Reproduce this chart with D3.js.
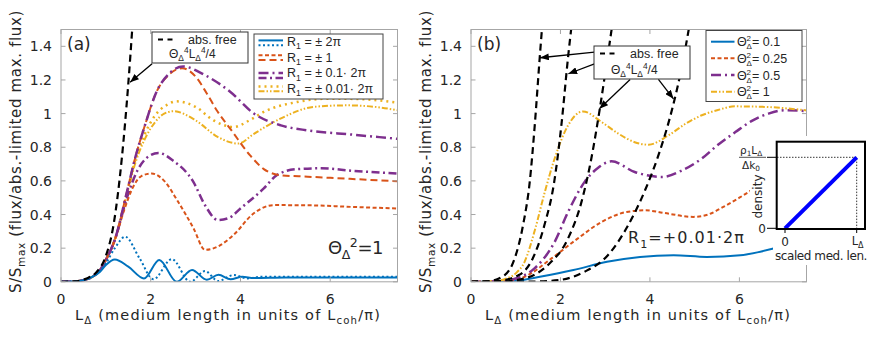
<!DOCTYPE html>
<html>
<head>
<meta charset="utf-8">
<script src="https://cdn.jsdelivr.net/npm/d3@7"></script>
<style>
  body { margin: 0; background: #fff; }
  text { font-family: "DejaVu Sans", sans-serif; fill: #262626; }
  .lg text, .ann text { font-family: "Liberation Sans", Arial, sans-serif; }
</style>
</head>
<body>
<svg id="chart" width="872" height="339"></svg>
<script>
// ---- axes ticks ----
const xTicks = [0, 2, 4, 6]
const yTicks = [0, 0.2, 0.4, 0.6, 0.8, 1, 1.2, 1.4]
const yTickLabels = ['0', '0.2', '0.4', '0.6', '0.8', '1', '1.2', '1.4']

// ---- (a) Θ²=1, R1 varied ----
const aFreeL = [0, 0.3, 0.57, 0.8, 0.98, 1.17, 1.355, 1.5, 1.6]
const aFreeV = [0, 0.002, 0.02, 0.06, 0.14, 0.337, 0.733, 1.178, 1.55]

const aBlueSolidL = [0, 0.3, 0.5, 0.7, 0.87, 1.0, 1.2, 1.5, 1.85, 2.19, 2.58, 2.92, 3.25, 3.51, 3.78, 4.04, 4.3, 5, 6, 7.5]
const aBlueSolidV = [0, 0.002, 0.01, 0.03, 0.06, 0.1, 0.133, 0.09, 0.02, 0.13, 0.0, 0.07, 0.012, 0.042, 0.015, 0.03, 0.022, 0.025, 0.025, 0.025]

const aBlueDotL = [0, 0.3, 0.5, 0.7, 0.87, 1.0, 1.2, 1.43, 1.75, 2.06, 2.47, 2.88, 3.21, 3.5, 3.85, 4.15, 4.45, 5, 6, 7.5]
const aBlueDotV = [0, 0.002, 0.01, 0.03, 0.065, 0.11, 0.2, 0.268, 0.14, 0.015, 0.135, 0.0, 0.064, 0.005, 0.04, 0.02, 0.03, 0.03, 0.03, 0.03]

const aOrangeLowL = [0, 0.3, 0.5, 0.7, 0.87, 1.0, 1.2, 1.4, 1.6, 1.8, 2.02, 2.3, 2.6, 2.95, 3.21, 3.5, 3.85, 4.29, 4.74, 5.5, 6.5, 7.5]
const aOrangeLowV = [0, 0.002, 0.01, 0.03, 0.07, 0.13, 0.25, 0.42, 0.56, 0.63, 0.644, 0.6, 0.48, 0.32, 0.19, 0.21, 0.28, 0.406, 0.456, 0.455, 0.445, 0.436]

const aOrangeHighL = [0, 0.3, 0.5, 0.7, 0.87, 1.0, 1.2, 1.47, 1.65, 1.87, 2.13, 2.4, 2.7, 3.0, 3.25, 3.47, 3.8, 4.22, 4.52, 4.89, 5.5, 6.0, 7.5]
const aOrangeHighV = [0, 0.002, 0.01, 0.03, 0.07, 0.13, 0.25, 0.535, 0.733, 0.93, 1.13, 1.23, 1.27, 1.22, 1.12, 1.02, 0.9, 0.75, 0.67, 0.634, 0.625, 0.618, 0.598]

const aPurpleLowL = [0, 0.3, 0.5, 0.7, 0.87, 1.0, 1.2, 1.47, 1.7, 1.95, 2.17, 2.5, 2.95, 3.2, 3.5, 3.75, 4.0, 4.52, 4.81, 5.26, 5.8, 6.5, 7.5]
const aPurpleLowV = [0, 0.002, 0.01, 0.03, 0.07, 0.13, 0.25, 0.5, 0.66, 0.745, 0.766, 0.72, 0.594, 0.46, 0.367, 0.38, 0.436, 0.555, 0.634, 0.67, 0.675, 0.66, 0.644]

const aPurpleHighL = [0, 0.3, 0.5, 0.7, 0.87, 1.0, 1.2, 1.47, 1.65, 1.87, 2.13, 2.4, 2.72, 3.2, 3.77, 4.3, 4.9, 5.5, 6.5, 7.5]
const aPurpleHighV = [0, 0.002, 0.01, 0.03, 0.07, 0.13, 0.25, 0.535, 0.733, 0.93, 1.13, 1.235, 1.28, 1.23, 1.13, 1.0, 0.93, 0.9, 0.875, 0.85]

const aYellowDotL = [0, 0.3, 0.5, 0.7, 0.87, 1.0, 1.2, 1.47, 1.65, 1.87, 2.1, 2.35, 2.58, 3.0, 3.4, 3.85, 4.2, 4.52, 5.26, 6.0, 6.75, 7.5]
const aYellowDotV = [0, 0.002, 0.01, 0.03, 0.07, 0.13, 0.25, 0.53, 0.72, 0.88, 0.99, 1.05, 1.073, 1.04, 0.96, 0.92, 0.96, 1.01, 1.069, 1.089, 1.085, 1.065]

const aYellowDddL = [0, 0.3, 0.5, 0.7, 0.87, 1.0, 1.2, 1.47, 1.65, 1.87, 2.1, 2.3, 2.51, 3.0, 3.5, 3.95, 4.3, 4.89, 5.63, 6.38, 7.0, 7.5]
const aYellowDddV = [0, 0.002, 0.01, 0.03, 0.07, 0.13, 0.25, 0.52, 0.7, 0.85, 0.95, 1.0, 1.014, 0.96, 0.86, 0.822, 0.88, 0.97, 1.04, 1.049, 1.04, 1.02]

// ---- (b) R1 = +0.01·2π, Θ² varied ----
const bFree1L = [0, 0.38, 0.754, 0.977, 1.163, 1.313, 1.425, 1.537, 1.6]
const bFree1V = [0, 0.003, 0.04, 0.139, 0.336, 0.594, 0.93, 1.336, 1.55]
const bFree2L = [0, 0.54, 1.07, 1.38, 1.64, 1.86, 2.02, 2.17, 2.26]
const bFree2V = [0, 0.003, 0.04, 0.139, 0.336, 0.594, 0.93, 1.336, 1.55]
const bFree3L = [0, 0.7, 1.2, 1.72, 2.17, 2.47, 2.69, 2.88, 3.05, 3.17]
const bFree3V = [0, 0.002, 0.02, 0.1, 0.258, 0.475, 0.733, 1.03, 1.33, 1.55]
const bFree4L = [0, 1.3, 1.95, 2.54, 3.06, 3.5, 3.9, 4.2, 4.5, 4.7, 4.9]
const bFree4V = [0, 0.001, 0.01, 0.06, 0.158, 0.33, 0.55, 0.76, 1.03, 1.26, 1.55]

const bBlueL = [0, 0.8, 1.0, 1.54, 2.29, 3.04, 3.78, 4.53, 5.27, 6.02, 6.4, 6.76]
const bBlueV = [0, 0.0, 0.005, 0.03, 0.07, 0.119, 0.148, 0.158, 0.148, 0.158, 0.175, 0.198]
const bOrangeL = [0, 0.7, 1.2, 1.8, 2.39, 2.92, 3.48, 3.9, 4.3, 4.97, 5.3, 5.64, 6.0, 6.3]
const bOrangeV = [0, 0.003, 0.03, 0.139, 0.258, 0.356, 0.415, 0.425, 0.41, 0.386, 0.4, 0.445, 0.5, 0.55]
const bPurpleL = [0, 0.6, 1.0, 1.42, 1.87, 2.17, 2.54, 2.85, 3.14, 3.66, 4.0, 4.27, 4.7, 5.16, 5.5, 5.91, 6.3, 6.65, 7.02, 7.5]
const bPurpleV = [0, 0.003, 0.02, 0.08, 0.237, 0.415, 0.594, 0.68, 0.716, 0.653, 0.63, 0.623, 0.66, 0.733, 0.81, 0.89, 0.96, 1.0, 1.02, 1.015]
const bYellowL = [0, 0.5, 0.8, 1.0, 1.2, 1.42, 1.65, 1.87, 2.17, 2.5, 2.92, 3.3, 3.66, 3.97, 4.41, 4.8, 5.16, 5.5, 5.91, 6.65, 7.1, 7.5]
const bYellowV = [0, 0.003, 0.02, 0.05, 0.12, 0.3, 0.534, 0.733, 0.93, 1.013, 0.95, 0.88, 0.83, 0.815, 0.87, 0.94, 0.99, 1.02, 1.043, 1.039, 1.03, 1.019]

// inset: linear density along scaled medium length
const insetX = [0, 1]
const insetY = [0, 1]

// ---- styles ----
const C = { blue: '#0072BD', orange: '#D95319', yellow: '#EDB120', purple: '#7E2F8E', black: '#000' }
const st = {
  free: { c: C.black, w: 2.2, d: '7,4.5' },
  blueSolid: { c: C.blue, w: 2, d: null },
  blueDot: { c: C.blue, w: 2, d: '2,2.5' },
  orangeShort: { c: C.orange, w: 2, d: '4,2.5' },
  orangeLong: { c: C.orange, w: 2, d: '7,4' },
  purpleA: { c: C.purple, w: 2.5, d: '10,4,2,4' },
  purpleB: { c: C.purple, w: 2.5, d: '8,3.5,2,3.5' },
  yellowDot: { c: C.yellow, w: 2.5, d: '2,4' },
  yellowDdd: { c: C.yellow, w: 2, d: '6,2,1.5,2,1.5,2' }
}

const zip = (xs, ys) => xs.map((x, i) => [x, ys[i]])
const svg = d3.select('#chart')
const defs = svg.append('defs')
defs.append('marker').attr('id', 'head')
  .attr('viewBox', '0 -4 10 8').attr('refX', 10).attr('refY', 0)
  .attr('markerUnits', 'userSpaceOnUse').attr('markerWidth', 9).attr('markerHeight', 7)
  .attr('orient', 'auto')
  .append('path').attr('d', 'M0,-4L10,0L0,4Z').attr('fill', '#000')

const AX = '#a6a6a6'

// rich text helper: parts = [text, kind]; kind '' | 'sub' | 'sup'
function rich (t, parts, size) {
  let shift = 0
  parts.forEach(p => {
    const [txt, kind] = Array.isArray(p) ? p : [p, '']
    const target = kind === 'sub' ? size * 0.28 : kind === 'sup' ? -size * 0.38 : 0
    t.append('tspan').text(txt).attr('dy', target - shift).attr('font-size', kind ? size * 0.7 : size)
    shift = target
  })
  return t
}
function fit (t, w) {
  const n = t.text().length
  const cur = t.node().getComputedTextLength()
  t.attr('letter-spacing', (w - cur) / n)
}

function panel (cfg) {
  const x = d3.scaleLinear().domain([0, 7.5]).range([cfg.left, cfg.right])
  const y = d3.scaleLinear().domain([0, 1.5]).range([281.8, 29.5])
  const g = svg.append('g')
  const cid = 'clip-' + cfg.id
  defs.append('clipPath').attr('id', cid).append('rect')
    .attr('x', cfg.left).attr('y', 29.5).attr('width', cfg.right - cfg.left).attr('height', 281.8 - 29.5)

  const line = d3.line().x(d => x(d[0])).y(d => y(d[1])).curve(d3.curveMonotoneX)
  const lines = g.append('g').attr('clip-path', 'url(#' + cid + ')')
  cfg.series.forEach(s => {
    lines.append('path').attr('d', line(zip(s.L, s.V)))
      .attr('fill', 'none').attr('stroke', s.st.c).attr('stroke-width', s.st.w)
      .attr('stroke-dasharray', s.st.d)
  })

  // frame and inside ticks (box on)
  g.append('rect').attr('x', cfg.left).attr('y', 29.5).attr('width', cfg.right - cfg.left).attr('height', 281.8 - 29.5)
    .attr('fill', 'none').attr('stroke', AX)
  const tk = 4.5
  xTicks.forEach(v => {
    g.append('line').attr('x1', x(v)).attr('x2', x(v)).attr('y1', y(0)).attr('y2', y(0) - tk).attr('stroke', AX)
    g.append('line').attr('x1', x(v)).attr('x2', x(v)).attr('y1', y(1.5)).attr('y2', y(1.5) + tk).attr('stroke', AX)
    g.append('text').attr('x', x(v)).attr('y', 303.5).attr('text-anchor', 'middle').attr('font-size', 14).text(v)
  })
  yTicks.forEach((v, i) => {
    g.append('line').attr('x1', x(0)).attr('x2', x(0) + tk).attr('y1', y(v)).attr('y2', y(v)).attr('stroke', AX)
    g.append('line').attr('x1', x(7.5)).attr('x2', x(7.5) - tk).attr('y1', y(v)).attr('y2', y(v)).attr('stroke', AX)
    g.append('text').attr('x', cfg.left - 9).attr('y', y(v)).attr('dy', '0.36em').attr('text-anchor', 'end')
      .attr('font-size', 14).text(yTickLabels[i])
  })

  // axis labels
  const xl = rich(g.append('text').attr('x', cfg.left + 14).attr('y', 320),
    ['L', ['Δ', 'sub'], ' (medium length in units of L', ['coh', 'sub'], '/π)'], 14.5)
  fit(xl, 306)
  const yl = rich(g.append('text').attr('transform', `translate(${cfg.left - 40},293) rotate(-90)`),
    ['S/S', ['max', 'sub'], ' (flux/abs.-limited max. flux)'], 15)
  fit(yl, 283)

  g.append('text').attr('x', cfg.left + 6).attr('y', 50).attr('font-size', 17).text(cfg.tag)
  return { x, y, g }
}

function arrow (p, from, to) {
  p.g.append('line').attr('x1', p.x(from[0])).attr('y1', p.y(from[1]))
    .attr('x2', p.x(to[0])).attr('y2', p.y(to[1]))
    .attr('stroke', '#000').attr('stroke-width', 1.3).attr('marker-end', 'url(#head)')
}
function annBox (bx, by, bw, bh) {
  const a = svg.append('g').attr('class', 'ann')
  a.append('rect').attr('x', bx).attr('y', by).attr('width', bw).attr('height', bh)
    .attr('fill', '#fff').attr('stroke', '#333')
  a.append('line').attr('x1', bx + 6).attr('x2', bx + 21).attr('y1', by + 7.5).attr('y2', by + 7.5)
    .attr('stroke', '#000').attr('stroke-width', 2.2).attr('stroke-dasharray', '5,4.5')
  a.append('text').attr('x', bx + 36).attr('y', by + 11.5).attr('font-size', 12.5).text('abs. free')
  rich(a.append('text').attr('x', bx + 17).attr('y', by + bh - 5),
    ['Θ', ['Δ', 'sub'], ['4', 'sup'], 'L', ['Δ', 'sub'], ['4', 'sup'], '/4'], 12)
}

// ================= panel (a) =================
const pa = panel({
  id: 'a', left: 61, right: 397.5, tag: '(a)',
  series: [
    { L: aYellowDddL, V: aYellowDddV, st: st.yellowDdd },
    { L: aYellowDotL, V: aYellowDotV, st: st.yellowDot },
    { L: aPurpleLowL, V: aPurpleLowV, st: st.purpleB },
    { L: aOrangeLowL, V: aOrangeLowV, st: st.orangeShort },
    { L: aOrangeHighL, V: aOrangeHighV, st: st.orangeLong },
    { L: aPurpleHighL, V: aPurpleHighV, st: st.purpleA },
    { L: aBlueDotL, V: aBlueDotV, st: st.blueDot },
    { L: aBlueSolidL, V: aBlueSolidV, st: st.blueSolid },
    { L: aFreeL, V: aFreeV, st: st.free }
  ]
})
fit(rich(pa.g.append('text').attr('x', 328).attr('y', 253.5), ['Θ', ['Δ', 'sub'], ['2', 'sup'], '=1'], 18), 55)

annBox(152, 32, 96, 31)
arrow(pa, [2.03, 1.297], [1.54, 1.186])

// legend (a): two line samples per entry
const legA = svg.append('g').attr('class', 'lg')
legA.append('rect').attr('x', 254).attr('y', 34).attr('width', 129).attr('height', 65)
  .attr('fill', '#fff').attr('stroke', '#444')
const legARows = [
  { a: st.blueSolid, b: st.blueDot, y: 42.8, tb: 45.7, txt: ['R', ['1', 'sub'], ' = ± 2π'] },
  { a: st.orangeShort, b: st.orangeLong, y: 57.7, tb: 61.5, txt: ['R', ['1', 'sub'], ' = ± 1'] },
  { a: st.purpleA, b: st.purpleB, y: 75.5, tb: 77.3, txt: ['R', ['1', 'sub'], ' = ± 0.1· 2π'] },
  { a: st.yellowDot, b: st.yellowDdd, y: 88.8, tb: 92.7, txt: ['R', ['1', 'sub'], ' = ± 0.01· 2π'] }
]
legARows.forEach(r => {
  ;[[r.a, -2.4], [r.b, 2.4]].forEach(([s, o]) => {
    legA.append('line').attr('x1', 258.5).attr('x2', 283).attr('y1', r.y + o).attr('y2', r.y + o)
      .attr('stroke', s.c).attr('stroke-width', s.w).attr('stroke-dasharray', s.d)
  })
  rich(legA.append('text').attr('x', 287).attr('y', r.tb), r.txt, 12.5)
})

// ================= panel (b) =================
const pb = panel({
  id: 'b', left: 471, right: 806.5, tag: '(b)',
  series: [
    { L: bBlueL, V: bBlueV, st: st.blueSolid },
    { L: bOrangeL, V: bOrangeV, st: st.orangeShort },
    { L: bPurpleL, V: bPurpleV, st: st.purpleA },
    { L: bYellowL, V: bYellowV, st: st.yellowDdd },
    { L: bFree1L, V: bFree1V, st: st.free },
    { L: bFree2L, V: bFree2V, st: st.free },
    { L: bFree3L, V: bFree3V, st: st.free },
    { L: bFree4L, V: bFree4V, st: st.free }
  ]
})
fit(rich(pb.g.append('text').attr('x', 628).attr('y', 243.3), ['R', ['1', 'sub'], '=+0.01·2π'], 16), 117)

annBox(594, 46, 96, 33)
arrow(pb, [2.76, 1.365], [1.544, 1.332])
arrow(pb, [2.76, 1.296], [2.177, 1.237])
arrow(pb, [3.557, 1.203], [2.87, 1.029])
arrow(pb, [4.19, 1.203], [4.526, 1.088])

// legend (b): Θ with superscript 2 stacked over subscript Δ
const legB = svg.append('g').attr('class', 'lg')
legB.append('rect').attr('x', 706).attr('y', 30.5).attr('width', 96).attr('height', 71)
  .attr('fill', '#fff').attr('stroke', '#444')
const legBRows = [
  { s: st.blueSolid, y: 41.7, lab: '0.1' },
  { s: st.orangeShort, y: 58.3, lab: '0.25' },
  { s: st.purpleA, y: 75, lab: '0.5' },
  { s: st.yellowDdd, y: 91.7, lab: '1' }
]
legBRows.forEach(r => {
  legB.append('line').attr('x1', 711).attr('x2', 734.5).attr('y1', r.y).attr('y2', r.y)
    .attr('stroke', r.s.c).attr('stroke-width', r.s.w).attr('stroke-dasharray', r.s.d)
  const base = r.y + 4.5
  legB.append('text').attr('x', 737).attr('y', base).attr('font-size', 12.5).text('Θ')
  legB.append('text').attr('x', 746.5).attr('y', base - 5).attr('font-size', 8).text('2')
  legB.append('text').attr('x', 746.5).attr('y', base + 3.2).attr('font-size', 8).text('Δ')
  legB.append('text').attr('x', 752).attr('y', base).attr('font-size', 12.5).text(' = ' + r.lab)
})

// ================= inset =================
const ins = svg.append('g')
ins.append('rect').attr('x', 750).attr('y', 136).attr('width', 120).attr('height', 104).attr('fill', '#fff')
ins.append('rect').attr('x', 773).attr('y', 240).attr('width', 97).attr('height', 25).attr('fill', '#fff')
const ix = d3.scaleLinear().domain([0, 1]).range([785, 856.7])
const iy = d3.scaleLinear().domain([0, 1]).range([228.3, 157.3])
ins.append('path').attr('d', `M${ix(0) - 8},${iy(1)}H${ix(1)}V${iy(0)}`)
  .attr('fill', 'none').attr('stroke', '#000').attr('stroke-width', 0.8).attr('stroke-dasharray', '1.5,1.5')
ins.append('path').attr('d', d3.line().x(d => ix(d[0])).y(d => iy(d[1]))(zip(insetX, insetY)))
  .attr('stroke', '#0000ff').attr('stroke-width', 4)
ins.append('rect').attr('x', 776.7).attr('y', 141.7).attr('width', 88.3).attr('height', 87.3)
  .attr('fill', 'none').attr('stroke', '#000').attr('stroke-width', 2)
;[iy(0), iy(1)].forEach(v => ins.append('line').attr('x1', 767).attr('x2', 776.7).attr('y1', v).attr('y2', v).attr('stroke', '#000'))
;[ix(0), ix(1)].forEach(v => ins.append('line').attr('x1', v).attr('x2', v).attr('y1', 229).attr('y2', 233).attr('stroke', '#000'))
ins.append('text').attr('x', 766).attr('y', iy(0)).attr('dy', '0.36em').attr('text-anchor', 'end').attr('font-size', 12).text('0')
ins.append('text').attr('x', ix(0)).attr('y', 246).attr('text-anchor', 'middle').attr('font-size', 12).text('0')
rich(ins.append('text').attr('x', ix(1) - 5).attr('y', 244.5), ['L', ['Δ', 'sub']], 11.5)
const sml = ins.append('text').attr('x', 775).attr('y', 260).attr('font-size', 12).text('scaled med. len.')
fit(sml, 92)
ins.append('text').attr('transform', 'translate(762,196.5) rotate(-90)').attr('text-anchor', 'middle')
  .attr('font-size', 12).text('density')
rich(ins.append('text').attr('x', 740).attr('y', 153.5), ['ρ', ['1', 'sub'], 'L', ['Δ', 'sub']], 10.5)
ins.append('line').attr('x1', 739).attr('x2', 766).attr('y1', 157.3).attr('y2', 157.3).attr('stroke', '#262626').attr('stroke-width', 0.8)
rich(ins.append('text').attr('x', 742).attr('y', 168.5), ['Δk', ['0', 'sub']], 10.5)
</script>
</body>
</html>
